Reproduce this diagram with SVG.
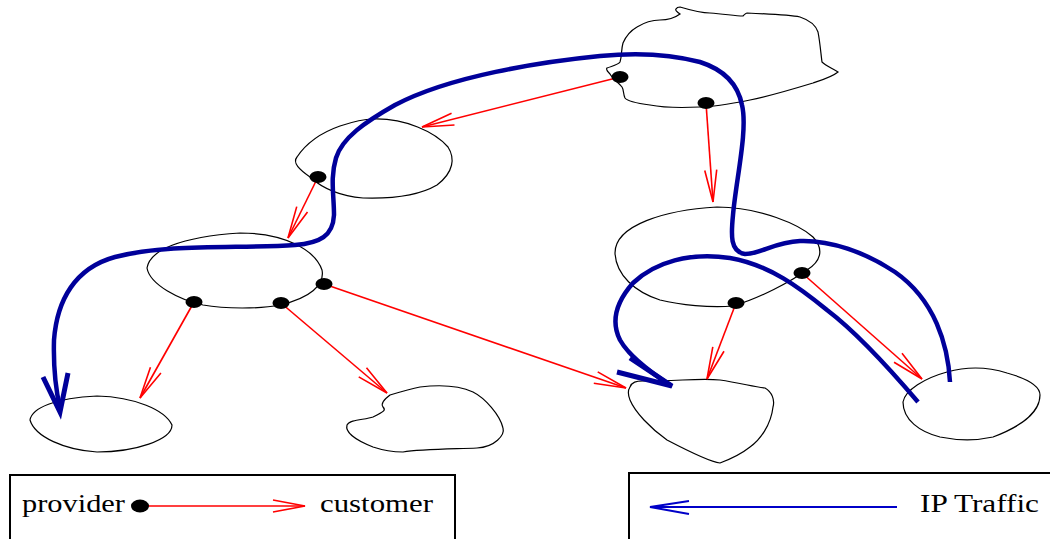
<svg xmlns="http://www.w3.org/2000/svg" width="1050" height="539" viewBox="0 0 1050 539">
<style>
.node{fill:none;stroke:#000;stroke-width:1.2}
.red{fill:none;stroke:#ff0000;stroke-width:1.6}
.blue{fill:none;stroke:#00009a;stroke-width:4.5;stroke-linecap:butt}
.bhead{fill:none;stroke:#00009a;stroke-width:5;stroke-linejoin:miter}
.dot{fill:#000}
.box{fill:none;stroke:#000;stroke-width:2}
.lbl{font-family:"Liberation Serif","Times New Roman",serif;font-size:26px;fill:#000}
</style>
<defs>
<marker id="ra" markerUnits="userSpaceOnUse" viewBox="-34 -10 36 20" refX="0" refY="0" markerWidth="36" markerHeight="20" orient="auto">
<path d="M-32,-6 L0,0 L-32,6" fill="none" stroke="#ff0000" stroke-width="1.6"/>
</marker>
</defs>
<rect width="1050" height="539" fill="#fff"/>
<g id="nodes">
<g id="n-top"><path class="node" d="M637,27 C645,22 652,20 660,20 C668,20 676,17 680,14 C677,12 675,10 676,9 C677,7 679,7 680,7 C690,10 700,13 710,13 C725,14 735,16 743,16 C745,14 746,13 747,13 C770,14 790,15 800,17 C812,21 816,26 818,32 C820,42 821,55 822,62 C826,66 832,68 838,72 C832,77 822,80 813,83 C790,90 770,96 750,100 C730,104 715,107 700,107 C680,108 660,107 650,105 C635,103 627,101 625,98 C623,94 624,90 622,87 C618,82 612,78 610,74 C607,71 606,69 607,68 C612,66 618,65 620,62 C622,56 621,50 623,43 C626,36 630,31 637,27 Z"/></g>
<g id="n-b"><path class="node" d="M297,157 C305,145 320,133 340,126 C355,121 365,119 373,119 C405,118 435,132 448,147 C455,158 454,172 437,185 C420,195 395,199 363,198 C340,196 322,188 310,177 C300,170 292,163 297,157 Z"/></g>
<g id="n-c"><path class="node" d="M147,268 C150,250 180,237 240,233 C285,233 315,250 322,270 C325,285 310,298 280,305 C260,309 225,309 203,305 C180,300 150,285 147,268 Z"/></g>
<g id="n-d"><path class="node" d="M30,420 C32,408 55,398 97,396 C135,397 165,410 172,425 C172,440 135,452 97,452 C65,450 35,437 30,420 Z"/></g>
<g id="n-e"><path class="node" d="M390,395 C386,398 380,403 383,407 C386,410 385,411 373,417 C365,420 350,419 347,425 C345,432 355,440 373,447 C385,451 395,452 403,452 C420,449 450,449 477,448 C495,447 505,435 503,428 C500,415 485,398 473,392 C460,386 445,384 420,387 C410,389 400,392 390,395 Z"/></g>
<g id="n-f"><path class="node" d="M630,387 C632,382 636,381 643,381 C680,381 700,378 720,380 C740,383 755,387 765,388 C772,392 775,400 773,407 C771,425 760,440 750,447 C740,455 728,460 720,463 C710,462 690,452 667,440 C650,428 635,412 630,400 C628,395 628,390 630,387 Z"/></g>
<g id="n-g"><path class="node" d="M615,253 C615,225 665,210 717,207 C760,207 800,225 813,237 C825,250 820,262 807,270 C790,282 760,298 733,306 C710,308 680,305 660,300 C635,292 616,275 615,253 Z"/></g>
<g id="n-h"><path class="node" d="M903,402 C905,390 925,378 947,372 C965,367 985,366 1007,373 C1025,378 1040,385 1040,395 C1040,410 1025,425 993,437 C975,441 955,440 940,437 C920,432 903,420 903,402 Z"/></g>
</g>
<g id="connectors">
<line class="red" x1="620" y1="77" x2="422" y2="127" marker-end="url(#ra)"/>
<line class="red" x1="706" y1="103" x2="713" y2="202" marker-end="url(#ra)"/>
<line class="red" x1="318" y1="177" x2="288" y2="238" marker-end="url(#ra)"/>
<line class="red" x1="194" y1="302" x2="140" y2="398" marker-end="url(#ra)"/>
<line class="red" x1="281" y1="303" x2="387" y2="393" marker-end="url(#ra)"/>
<line class="red" x1="324" y1="284" x2="626" y2="388" marker-end="url(#ra)"/>
<line class="red" x1="736" y1="303" x2="707" y2="379" marker-end="url(#ra)"/>
<line class="red" x1="802" y1="273" x2="922" y2="379" marker-end="url(#ra)"/>
<path class="blue" d="M950,382 C948,345 935,300 895,272 C865,252 830,240 800,241 C775,242 760,254 745,254 C730,252 731,235 733,215 C736,180 748,130 742,105 C738,85 725,70 700,62 C670,54 640,52 600,56 C540,62 450,76 395,105 C365,122 342,138 336,158 C330,178 334,195 334,215 C333,236 320,243 295,245 C240,249 170,243 115,257 C75,268 57,300 54,340 C53,375 57,395 60,408"/>
<path class="bhead" d="M43,377 L60,412 L68,373"/>
<path class="blue" d="M918,402 C895,375 860,335 827,310 C800,288 770,265 730,258 C690,252 655,262 633,283 C618,300 610,320 620,340 C630,358 655,375 670,385"/>
<path class="bhead" d="M630,358 L672,386 L617,372"/>
<ellipse class="dot" cx="620" cy="77" rx="8.5" ry="6"/>
<ellipse class="dot" cx="706" cy="103" rx="8.5" ry="6"/>
<ellipse class="dot" cx="318" cy="177" rx="8.5" ry="6"/>
<ellipse class="dot" cx="194" cy="302" rx="8.5" ry="6"/>
<ellipse class="dot" cx="281" cy="303" rx="8.5" ry="6"/>
<ellipse class="dot" cx="324" cy="284" rx="8.5" ry="6"/>
<ellipse class="dot" cx="736" cy="303" rx="8.5" ry="6"/>
<ellipse class="dot" cx="802" cy="273" rx="8.5" ry="6"/>
</g>
<g id="legend-left">
<rect class="box" x="10" y="475" width="445" height="80"/>
<text class="lbl" x="22" y="512" textLength="103" lengthAdjust="spacingAndGlyphs">provider</text>
<line class="red" x1="140" y1="506" x2="305" y2="506" marker-end="url(#ra)"/>
<ellipse class="dot" cx="140" cy="506" rx="9" ry="6.5"/>
<text class="lbl" x="320" y="512" textLength="113" lengthAdjust="spacingAndGlyphs">customer</text>
</g>
<g id="legend-right">
<rect class="box" x="629" y="473" width="440" height="80"/>
<path d="M897,507 L650,507 M689,501 L650,507 L689,514" fill="none" stroke="#0000c8" stroke-width="2"/>
<text class="lbl" x="920" y="512" textLength="119" lengthAdjust="spacingAndGlyphs">IP Traffic</text>
</g>
</svg>
